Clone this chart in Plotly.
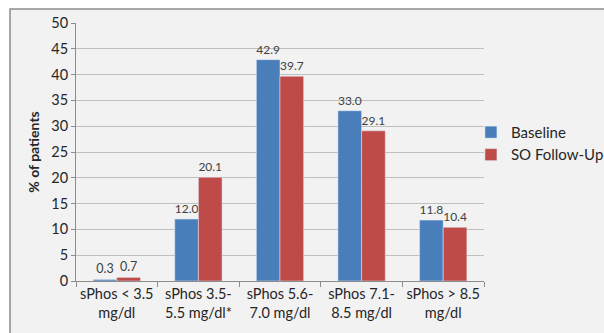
import plotly.graph_objects as go

categories = ["sPhos < 3.5<br>mg/dl", "sPhos 3.5-<br>5.5 mg/dl*", "sPhos 5.6-<br>7.0 mg/dl",
              "sPhos 7.1-<br>8.5 mg/dl", "sPhos > 8.5<br>mg/dl"]
baseline = [0.3, 12.0, 42.9, 33.0, 11.8]
followup = [0.7, 20.1, 39.7, 29.1, 10.4]
y_ticks = [0, 5, 10, 15, 20, 25, 30, 35, 40, 45, 50]

FONT = "Lato"
fig = go.Figure()
fig.add_bar(x=categories, y=baseline, name="Baseline", marker_color="#4a7ebb",
            texttemplate="%{y:.1f}", textposition="outside", cliponaxis=False,
            textfont=dict(size=12.5, color="#404040"))
fig.add_bar(x=categories, y=followup, name="SO Follow-Up", marker_color="#be4b48",
            texttemplate="%{y:.1f}", textposition="outside", cliponaxis=False,
            textfont=dict(size=12.5, color="#404040"))

W, H = 604, 333
l, t = 76, 23
pw, ph = 408, 258
r, b = W - l - pw, H - t - ph
fig.add_shape(type="rect", xref="paper", yref="paper",
              x0=(10 - l) / pw, x1=(W + 60 - l) / pw,
              y0=-(H + 60 - (t + ph)) / ph, y1=(t + ph - 9) / ph,
              fillcolor="#f2f2f2", line=dict(color="#8c8c8c", width=1.5), layer="below")

fig.update_layout(
    width=W, height=H, margin=dict(l=l, r=r, t=t, b=b, autoexpand=False),
    paper_bgcolor="white", plot_bgcolor="rgba(0,0,0,0)",
    barmode="group", bargap=0.42, bargroupgap=0,
    font=dict(family=FONT, size=14, color="#262626"),
    legend=dict(x=0.968, y=0.64, xanchor="left", yanchor="top",
                font=dict(size=15, color="#262626"), bgcolor="rgba(0,0,0,0)",
                tracegroupgap=0, itemwidth=30),
    showlegend=True,
)
fig.update_xaxes(showline=True, linecolor="#8c8c8c", ticks="outside", tickson="boundaries",
                 ticklen=5, tickcolor="#8c8c8c", tickfont=dict(size=14.5), automargin=False,
                 tickangle=0)
fig.update_yaxes(range=[0, 50], tickvals=y_ticks, showgrid=True, gridcolor="#bfbfbf",
                 showline=True, linecolor="#8c8c8c", ticks="outside", ticklen=4,
                 tickcolor="#8c8c8c", zeroline=False, tickfont=dict(size=14.5), automargin=False,
                 title=dict(text="<b>% of patients</b>", font=dict(size=14), standoff=8))

fig.write_html("out.html", config={"displayModeBar": False},
               post_script="document.body.style.margin='0';document.body.style.overflow='hidden';")
